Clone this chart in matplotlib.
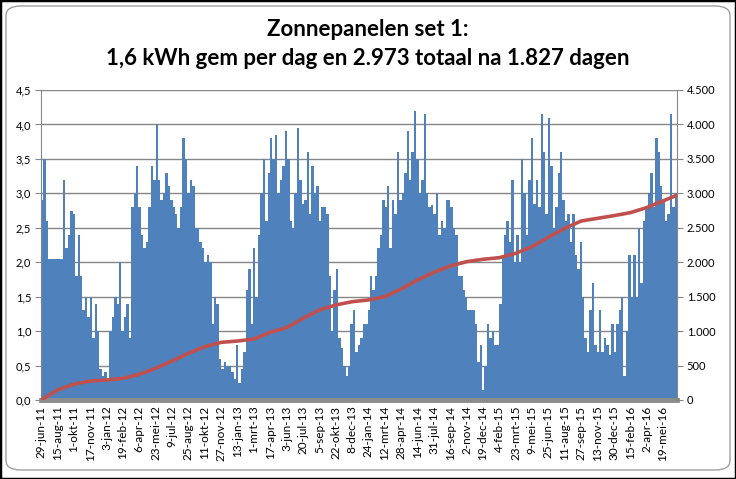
import matplotlib
matplotlib.use("Agg")
import matplotlib.pyplot as plt
from matplotlib.patches import FancyBboxPatch, Rectangle
import numpy as np

plt.rcParams['font.family'] = ['Lato', 'DejaVu Sans']

# Daily yield (kWh) per week (7 days), 261 weeks = 1827 days
WEEK_KWH = [
    2.9, 3.5, 2.6, 2.05, 2.05, 2.05, 2.05, 2.05, 2.05, 3.2, 2.2, 2.4, 2.75, 2.7, 1.8, 2.4,
    1.8, 1.3, 1.5, 1.2, 1.5, 0.9, 1.4, 1.0, 0.45, 0.35, 0.4, 0.3, 1.0, 1.2, 1.5, 1.4, 2.0,
    1.0, 1.2, 1.4, 0.9, 2.8, 3.0, 3.4, 2.8, 2.4, 2.2, 2.3, 2.8, 3.4, 3.2, 4.0, 3.2,
    2.9, 3.0, 3.3, 3.1, 2.9, 2.8, 2.7, 2.5, 2.8, 3.8, 3.5, 3.0, 3.2, 3.1, 2.5, 2.5,
    2.3, 2.2, 2.0, 2.1, 2.0, 1.1, 1.5, 1.4, 0.6, 0.45, 0.55, 0.5, 0.5, 0.4, 0.3, 0.8,
    0.25, 0.45, 0.7, 1.6, 1.9, 1.1, 2.2, 1.5, 2.4, 3.0, 3.5, 2.6, 3.3, 3.8, 3.5, 3.85, 3.0,
    3.2, 3.4, 3.9, 3.5, 2.6, 2.5, 3.0, 3.95, 3.2, 2.85, 2.9, 3.6, 2.7, 3.4, 3.0, 3.1,
    2.6, 2.8, 2.8, 2.7, 1.8, 1.0, 1.6, 1.9, 0.9, 0.75, 0.5, 0.35, 0.5, 1.1, 1.3, 0.7, 0.8,
    0.9, 1.1, 1.1, 1.3, 1.8, 1.6, 1.8, 2.2, 2.4, 2.9, 2.8, 3.1, 2.2, 2.9, 2.7, 3.6,
    2.9, 3.0, 3.3, 3.9, 3.2, 3.6, 4.2, 3.5, 3.0, 3.2, 4.15, 3.0, 2.8, 2.83, 2.7, 3.0, 2.4,
    2.6, 2.5, 2.9, 2.9, 2.8, 2.5, 2.4, 1.8, 1.8, 1.6, 1.5, 1.3, 1.3, 1.3, 1.1, 0.55,
    0.8, 0.15, 0.5, 1.1, 0.9, 1.0, 0.8, 0.8, 1.4, 2.1, 2.4, 2.6, 2.3, 3.2, 2.0, 2.4, 2.0,
    3.5, 3.0, 2.4, 3.2, 3.8, 2.85, 3.2, 2.8, 4.15, 3.6, 2.7, 4.1, 3.4, 2.5, 2.8, 3.3,
    3.6, 2.9, 2.6, 2.7, 2.3, 2.7, 2.1, 1.9, 2.3, 1.5, 0.9, 0.7, 1.3, 1.7, 0.8, 0.7,
    1.3, 0.7, 0.9, 0.8, 0.65, 1.1, 0.7, 1.1, 1.3, 1.5, 0.35, 1.0, 2.1, 1.5, 2.1, 1.5,
    2.5, 1.7, 2.6, 2.8, 3.0, 3.3, 2.8, 3.8, 3.6, 3.1, 2.9, 2.6, 2.7, 4.15, 2.8, 3.0,
]

# Category labels (every 47 days from 29-jun-11)
DATE_LABELS = [
    '29-jun-11', '15-aug-11', '1-okt-11', '17-nov-11', '3-jan-12', '19-feb-12',
    '6-apr-12', '23-mei-12', '9-jul-12', '25-aug-12', '11-okt-12', '27-nov-12',
    '13-jan-13', '1-mrt-13', '17-apr-13', '3-jun-13', '20-jul-13', '5-sep-13',
    '22-okt-13', '8-dec-13', '24-jan-14', '12-mrt-14', '28-apr-14', '14-jun-14',
    '31-jul-14', '16-sep-14', '2-nov-14', '19-dec-14', '4-feb-15', '23-mrt-15',
    '9-mei-15', '25-jun-15', '11-aug-15', '27-sep-15', '13-nov-15', '30-dec-15',
    '15-feb-16', '2-apr-16', '19-mei-16',
]
LABEL_STEP = 47
N_DAYS = 1827

# Cumulative total (kWh) at each label date, plus the last day
CUM_DAYS = [i * LABEL_STEP for i in range(len(DATE_LABELS))] + [N_DAYS - 1]
CUM_KWH = [
    0, 145, 230, 276, 290, 314, 373, 460, 566, 678, 774, 837, 856, 885, 982, 1050,
    1185, 1306, 1379, 1427, 1452, 1500, 1611, 1742, 1853, 1945, 2008, 2042, 2066,
    2129, 2226, 2362, 2492, 2598, 2637, 2676, 2719, 2792, 2889, 2973,
]

TITLE = 'Zonnepanelen set 1:\n1,6 kWh gem per dag en 2.973 totaal na 1.827 dagen'

BAR_COLOR = '#4F81BD'
LINE_COLOR = '#C0504D'
GRID_COLOR = '#868686'

fig = plt.figure(figsize=(7.36, 4.79), dpi=100)
fig.patch.set_facecolor('white')

# spreadsheet frame + rounded chart area (kept behind the axes)
frame = Rectangle((0, 0), 1, 1, transform=fig.transFigure,
                  fill=False, edgecolor='black', linewidth=2.5, zorder=-10)
chart_area = FancyBboxPatch((6 / 736, 9 / 479), 724 / 736, 464 / 479,
                            boxstyle='round,pad=0,rounding_size=0.02',
                            transform=fig.transFigure, facecolor='white',
                            edgecolor='#A0A0A0', linewidth=1.0, zorder=-9)
fig.patches.extend([frame, chart_area])

ax = fig.add_axes([41 / 736, 1 - 400 / 479, 636 / 736, 310 / 479])
ax.set_zorder(1)
ax.patch.set_alpha(0)

week_start = np.arange(len(WEEK_KWH)) * 7 - 0.5
ax.bar(week_start, WEEK_KWH, width=7, align='edge', color=BAR_COLOR,
       edgecolor='none', zorder=2)

ax.set_ylim(0, 4.5)
ax.set_xlim(-0.5, N_DAYS - 0.5)
yt = np.arange(0, 4.51, 0.5)
ax.set_yticks(yt)
ax.set_yticklabels([f'{v:.1f}'.replace('.', ',') for v in yt], fontsize=8)
ax.yaxis.grid(True, color=GRID_COLOR, linewidth=1.0, zorder=0)
ax.set_axisbelow(True)

ax.set_xticks([i * LABEL_STEP for i in range(len(DATE_LABELS))])
ax.set_xticklabels(DATE_LABELS, rotation=90, fontsize=8.5)
ax.tick_params(axis='x', length=0, pad=4)
ax.tick_params(axis='y', length=4, color=GRID_COLOR, pad=3)

ax.spines['top'].set_visible(False)
ax.spines['left'].set_color(GRID_COLOR)
ax.spines['right'].set_visible(False)
ax.spines['bottom'].set_color('#8C8C8C')
ax.spines['bottom'].set_linewidth(3.5)

ax2 = ax.twinx()
ax2.set_zorder(2)
ax2.plot(CUM_DAYS, CUM_KWH, color=LINE_COLOR, linewidth=2.6,
         solid_capstyle='round')
ax2.set_ylim(0, 4500)
yt2 = np.arange(0, 4501, 500)
ax2.set_yticks(yt2)
ax2.set_yticklabels([f'{v:,}'.replace(',', '.') for v in yt2], fontsize=8)
ax2.tick_params(axis='y', length=4, color=GRID_COLOR, pad=3)
ax2.spines['right'].set_color(GRID_COLOR)
for side in ['top', 'left', 'bottom']:
    ax2.spines[side].set_visible(False)

fig.text(0.5, 1 - 44 / 479, TITLE, ha='center', va='center', fontsize=16,
         fontweight='bold', linespacing=1.45)

fig.savefig('out.png', dpi=100, facecolor='white')
plt.close(fig)
